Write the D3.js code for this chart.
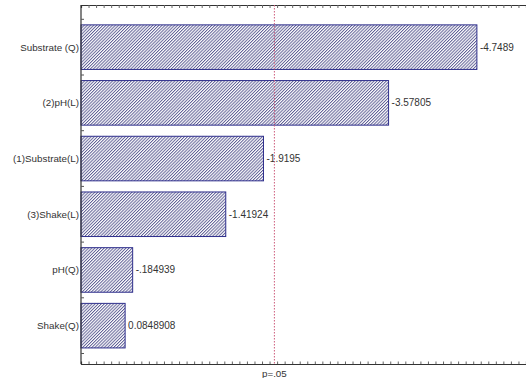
<!DOCTYPE html>
<html>
<head>
<meta charset="utf-8">
<script src="https://cdn.jsdelivr.net/npm/d3@7/dist/d3.min.js"></script>
<style>
  html, body { margin: 0; padding: 0; background: #fff; }
  svg { display: block; }
  text { font-family: Arial, "Liberation Sans", sans-serif; fill: #333; }
</style>
</head>
<body>
<svg id="chart" width="526" height="378"></svg>
<script>
// Pareto chart of standardized effects (sorted, largest first)
const factors = ["Substrate (Q)", "(2)pH(L)", "(1)Substrate(L)", "(3)Shake(L)", "pH(Q)", "Shake(Q)"];
const effectLabels = ["-4.7489", "-3.57805", "-1.9195", "-1.41924", "-.184939", "0.0848908"];
const effects = effectLabels.map(Number);
const criticalValue = 2.0639;      // t critical at p = .05
const criticalLabel = "p=.05";
const xDomain = [-0.5, 5.4];
const tickStep = 0.1;

(function draw() {
  const svg = d3.select("#chart");
  const plotLeft = 81, plotRight = 526, plotTop = 5, plotBottom = 364;

  const x = d3.scaleLinear().domain(xDomain).range([plotLeft, plotRight]);
  const y = d3.scaleBand().domain(factors).range([19.3, 353.5]).paddingInner(0.2).paddingOuter(0.1);

  // fine diagonal hatch fill for the bars
  const defs = svg.append("defs");
  const pat = defs.append("pattern")
    .attr("id", "hatch")
    .attr("patternUnits", "userSpaceOnUse")
    .attr("width", 2.2).attr("height", 4)
    .attr("patternTransform", "rotate(45)");
  pat.append("rect").attr("width", 2.2).attr("height", 4).attr("fill", "#ffffff");
  pat.append("line").attr("x1", 0.5).attr("y1", 0).attr("x2", 0.5).attr("y2", 4)
    .attr("stroke", "#52528c").attr("stroke-width", 0.9);

  // bars: length from the absolute effect
  svg.append("g").selectAll("rect")
    .data(factors)
    .join("rect")
    .attr("x", x(xDomain[0]))
    .attr("y", d => y(d))
    .attr("width", (d, i) => x(Math.abs(effects[i])) - x(xDomain[0]))
    .attr("height", y.bandwidth())
    .attr("fill", "url(#hatch)")
    .attr("stroke", "#2e2e8c")
    .attr("stroke-width", 1);

  // value labels at bar ends
  svg.append("g").selectAll("text")
    .data(factors)
    .join("text")
    .attr("x", (d, i) => x(Math.abs(effects[i])) + 3)
    .attr("y", d => y(d) + y.bandwidth() / 2)
    .attr("dy", "0.35em")
    .attr("font-size", 10)
    .text((d, i) => effectLabels[i]);

  // bottom and top axes with fine ticks, no labels
  const tickVals = d3.range(xDomain[0] + tickStep, xDomain[1] + 1e-9, tickStep);
  const xBottom = d3.axisBottom(x).tickValues(tickVals).tickSize(-2.5).tickFormat("");
  const gb = svg.append("g").attr("transform", `translate(0,${plotBottom})`).call(xBottom);
  const xTop = d3.axisTop(x).tickValues(tickVals).tickSize(-3).tickFormat("");
  const gt = svg.append("g").attr("transform", `translate(0,${plotTop})`).call(xTop);
  [gb, gt].forEach(g => {
    g.select(".domain").attr("stroke", "#333").attr("stroke-width", 1.2);
    g.selectAll(".tick line").attr("stroke", "#666");
  });

  // left axis: factor names, ticks on band boundaries
  const gl = svg.append("g").attr("transform", `translate(${plotLeft},0)`);
  gl.append("line").attr("x1", 0).attr("x2", 0).attr("y1", plotTop).attr("y2", plotBottom)
    .attr("stroke", "#333").attr("stroke-width", 1.2);
  const bounds = factors.map(f => y(f) - y.step() * y.paddingInner() / 2);
  bounds.push(y(factors[factors.length - 1]) + y.bandwidth() + y.step() * y.paddingInner() / 2);
  gl.selectAll("line.tk").data(bounds).join("line").attr("class", "tk")
    .attr("x1", 0).attr("x2", 3).attr("y1", d => d).attr("y2", d => d)
    .attr("stroke", "#555");
  gl.selectAll("text").data(factors).join("text")
    .attr("x", -2)
    .attr("y", d => y(d) + y.bandwidth() / 2)
    .attr("dy", "0.35em")
    .attr("text-anchor", "end")
    .attr("font-size", 9.8)
    .text(d => d);

  // significance line
  svg.append("line")
    .attr("x1", x(criticalValue)).attr("x2", x(criticalValue))
    .attr("y1", plotTop).attr("y2", plotBottom)
    .attr("stroke", "#cc5a7a").attr("stroke-width", 1)
    .attr("stroke-dasharray", "1.5,1.5");
  svg.append("text")
    .attr("x", x(criticalValue))
    .attr("y", 374)
    .attr("dy", "0.35em")
    .attr("text-anchor", "middle")
    .attr("font-size", 9.8)
    .text(criticalLabel);
})();
</script>
</body>
</html>
